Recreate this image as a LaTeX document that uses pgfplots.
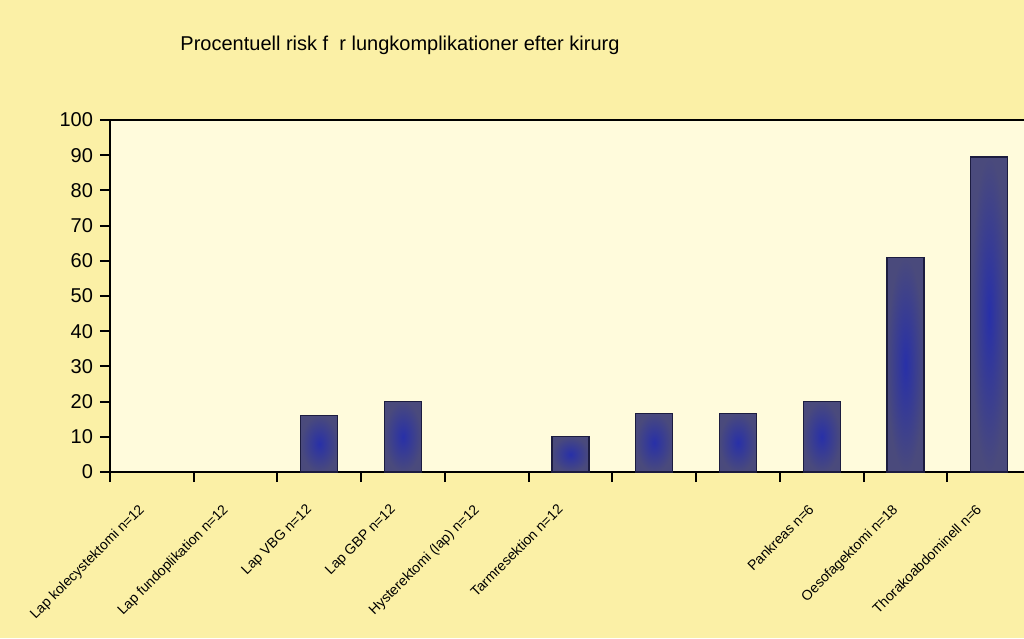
\documentclass[border=0pt]{standalone}
\usepackage{pgfplots}
\pgfplotsset{compat=1.18}
\usepackage{fontspec}
\setmainfont{Liberation Sans}
\definecolor{bgout}{HTML}{FBF0A6}
\definecolor{bgin}{HTML}{FFFBDC}
\definecolor{baredge}{HTML}{4A4A7C}
\definecolor{barmid}{HTML}{2830A8}
\definecolor{barline}{HTML}{1C1C40}
\begin{document}
\begin{tikzpicture}[x=1pt,y=1pt]
\clip (0,0) rectangle (512,319);
\fill[bgout] (0,0) rectangle (512,319);
\node[font=\fontsize{10}{12}\selectfont] at (200,296.5) {Procentuell risk f\ \ r lungkomplikationer efter kirurg};
\begin{axis}[
  at={(55pt,83pt)}, anchor=south west,
  scale only axis, width=460.5pt, height=176pt,
  xmin=-0.5, xmax=10.5, ymin=0, ymax=100,
  axis background/.style={fill=bgin},
  axis line style={black, line width=1.1pt},
  xtick pos=bottom, ytick pos=left,
  ytick={0,10,...,100},
  xtick={0,...,10},
  xticklabels={Lap kolecystektomi n=12, Lap fundoplikation n=12, Lap VBG n=12, Lap GBP n=12, Hysterektomi (lap) n=12, Tarmresektion n=12, {}, {}, Pankreas n=6, Oesofagektomi n=18, Thorakoabdominell n=6},
  major x tick style={draw=none},
  minor xtick={-0.5,0.5,...,10.5},
  tick align=outside,
  major tick length=5pt, minor tick length=5pt,
  tick style={black, line width=1pt},
  xticklabel style={rotate=45, anchor=north east, font=\fontsize{7}{8}\selectfont, xshift=-9pt, yshift=1pt},
  yticklabel style={font=\fontsize{10}{12}\selectfont},
  /pgf/number format/assume math mode=true,
  ybar, bar width=18.5pt, bar shift=0pt,
  mybar/.style={draw=barline, line width=0.6pt, shading=radial, inner color=barmid, outer color=baredge},
]
\addplot[mybar] coordinates {(2,16)};
\addplot[mybar] coordinates {(3,20)};
\addplot[mybar] coordinates {(5,10)};
\addplot[mybar] coordinates {(6,16.7)};
\addplot[mybar] coordinates {(7,16.7)};
\addplot[mybar] coordinates {(8,20)};
\addplot[mybar] coordinates {(9,61)};
\addplot[mybar] coordinates {(10,89.5)};
\end{axis}
\end{tikzpicture}
\end{document}
